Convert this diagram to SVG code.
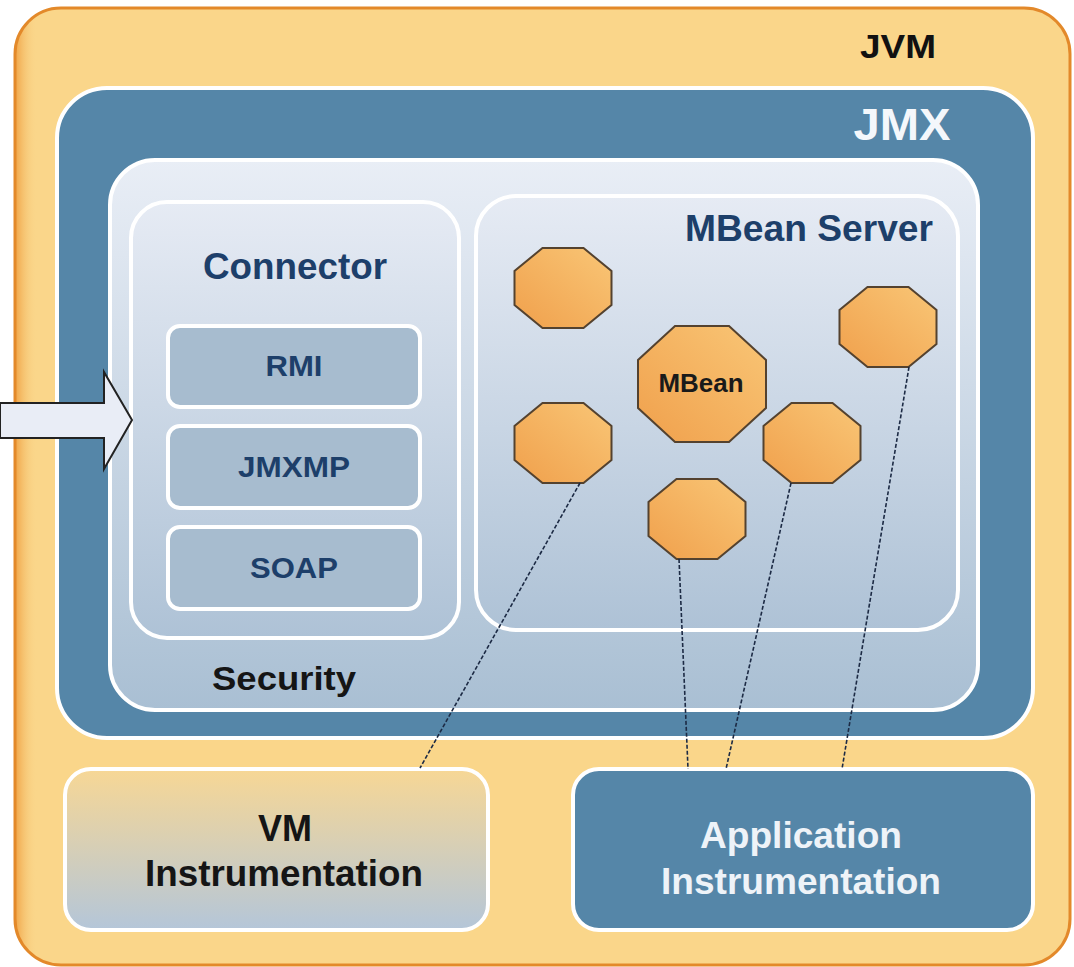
<svg xmlns="http://www.w3.org/2000/svg" xmlns:xlink="http://www.w3.org/1999/xlink" width="1074" height="967" viewBox="0 0 1074 967">
<defs>
<linearGradient id="gSec" x1="0" y1="0" x2="0" y2="1"><stop offset="0" stop-color="#e9eef6"/><stop offset="1" stop-color="#a9bfd3"/></linearGradient>
<linearGradient id="gCon" x1="0" y1="0" x2="0" y2="1"><stop offset="0" stop-color="#e6ebf4"/><stop offset="1" stop-color="#aec2d6"/></linearGradient>
<linearGradient id="gVM" x1="0" y1="0" x2="0" y2="1"><stop offset="0" stop-color="#f7d795"/><stop offset="1" stop-color="#b4c6d9"/></linearGradient>
<linearGradient id="gOct" x1="0" y1="1" x2="1" y2="0"><stop offset="0" stop-color="#f0a04c"/><stop offset="1" stop-color="#f9c676"/></linearGradient>
<linearGradient id="gJvmEdge" x1="0" y1="0" x2="1" y2="0"><stop offset="0" stop-color="#f0a345"/><stop offset="1" stop-color="#fad68a" stop-opacity="0"/></linearGradient>
<clipPath id="jvmClip"><rect x="15" y="8" width="1055" height="957" rx="46"/></clipPath>
<polygon id="oct" points="-20.5,-40 20.5,-40 48.5,-17 48.5,17 20.5,40 -20.5,40 -48.5,17 -48.5,-17"/>
<polygon id="octBig" points="-27,-58 27,-58 64,-24 64,24 27,58 -27,58 -64,24 -64,-24"/>
</defs>
<style>
.bold{font-family:"Liberation Sans",Arial,sans-serif;font-weight:bold}
.navy{fill:#1d3f6a}
.wbox{stroke:#ffffff;stroke-width:4}
.proto{fill:#a7bccf;stroke:#ffffff;stroke-width:4}
.octs{fill:url(#gOct);stroke:#54422f;stroke-width:2}
.dash{fill:none;stroke:#1c2a44;stroke-width:1.6;stroke-dasharray:4 2}
</style>
<rect x="0" y="0" width="1074" height="967" fill="#ffffff"/>
<g id="jvm">
<rect x="15" y="8" width="1055" height="957" rx="46" fill="#fad68a"/>
<rect x="15" y="8" width="22" height="957" fill="url(#gJvmEdge)" clip-path="url(#jvmClip)"/>
<rect x="15" y="8" width="1055" height="957" rx="46" fill="none" stroke="#e3892a" stroke-width="3"/>
<text class="bold" x="898" y="58" font-size="33" text-anchor="middle" textLength="76" lengthAdjust="spacingAndGlyphs" fill="#111">JVM</text>
</g>
<g id="jmx">
<rect x="57" y="88" width="976" height="650" rx="50" fill="#5586a8" class="wbox"/>
<text class="bold" x="902" y="140" font-size="44" text-anchor="middle" textLength="97" lengthAdjust="spacingAndGlyphs" fill="#f4f7fb">JMX</text>
</g>
<g id="security">
<rect x="110" y="160" width="868" height="550" rx="45" fill="url(#gSec)" class="wbox"/>
<text class="bold" x="284" y="690" font-size="34" text-anchor="middle" textLength="144" lengthAdjust="spacingAndGlyphs" fill="#151515">Security</text>
</g>
<g id="connector">
<rect x="131" y="202" width="328" height="436" rx="36" fill="url(#gCon)" class="wbox"/>
<text class="bold navy" x="295" y="279" font-size="36" text-anchor="middle" textLength="184" lengthAdjust="spacingAndGlyphs">Connector</text>
</g>
<g id="rmi">
<rect x="168" y="326" width="252" height="81" rx="12" class="proto"/>
<text class="bold navy" x="294" y="376" font-size="29" text-anchor="middle" textLength="57" lengthAdjust="spacingAndGlyphs">RMI</text>
</g>
<g id="jmxmp">
<rect x="168" y="426" width="252" height="82" rx="12" class="proto"/>
<text class="bold navy" x="294" y="477" font-size="29" text-anchor="middle" textLength="112" lengthAdjust="spacingAndGlyphs">JMXMP</text>
</g>
<g id="soap">
<rect x="168" y="527" width="252" height="82" rx="12" class="proto"/>
<text class="bold navy" x="294" y="578" font-size="29" text-anchor="middle" textLength="88" lengthAdjust="spacingAndGlyphs">SOAP</text>
</g>
<g id="mbeanserver">
<rect x="476" y="196" width="482" height="434" rx="40" fill="url(#gCon)" class="wbox"/>
<text class="bold navy" x="809" y="241" font-size="36" text-anchor="middle" textLength="248" lengthAdjust="spacingAndGlyphs">MBean Server</text>
</g>
<g id="mbean1"><use xlink:href="#oct" x="563" y="288" class="octs"/></g>
<g id="mbean2"><use xlink:href="#oct" x="563" y="443" class="octs"/></g>
<g id="mbean3"><use xlink:href="#octBig" x="702" y="384" class="octs"/>
<text class="bold" x="701" y="392" font-size="25" text-anchor="middle" textLength="85" lengthAdjust="spacingAndGlyphs" fill="#1a1a1a">MBean</text></g>
<g id="mbean4"><use xlink:href="#oct" x="812" y="443" class="octs"/></g>
<g id="mbean5"><use xlink:href="#oct" x="697" y="519" class="octs"/></g>
<g id="mbean6"><use xlink:href="#oct" x="888" y="327" class="octs"/></g>
<g id="vminstr">
<rect x="65" y="769" width="423" height="161" rx="26" fill="url(#gVM)" class="wbox"/>
<text class="bold" x="285" y="841" font-size="36" text-anchor="middle" textLength="54" lengthAdjust="spacingAndGlyphs" fill="#151515">VM</text>
<text class="bold" x="284" y="886" font-size="36" text-anchor="middle" textLength="278" lengthAdjust="spacingAndGlyphs" fill="#151515">Instrumentation</text>
</g>
<g id="appinstr">
<rect x="573" y="769" width="460" height="161" rx="26" fill="#5586a8" class="wbox"/>
<text class="bold" x="801" y="848" font-size="36" text-anchor="middle" textLength="202" lengthAdjust="spacingAndGlyphs" fill="#eef3f8">Application</text>
<text class="bold" x="801" y="894" font-size="36" text-anchor="middle" textLength="280" lengthAdjust="spacingAndGlyphs" fill="#eef3f8">Instrumentation</text>
</g>
<g id="arrow">
<polygon points="0,403 104,403 104,372 132,420 104,469 104,438 0,438" fill="#e9edf6" stroke="#222" stroke-width="2"/>
</g>
<g id="connectors">
<line class="dash" x1="580" y1="483" x2="420" y2="768"/>
<line class="dash" x1="679" y1="559" x2="688" y2="769"/>
<line class="dash" x1="791" y1="483" x2="726" y2="769"/>
<line class="dash" x1="909" y1="367" x2="842" y2="769"/>
</g>
</svg>
